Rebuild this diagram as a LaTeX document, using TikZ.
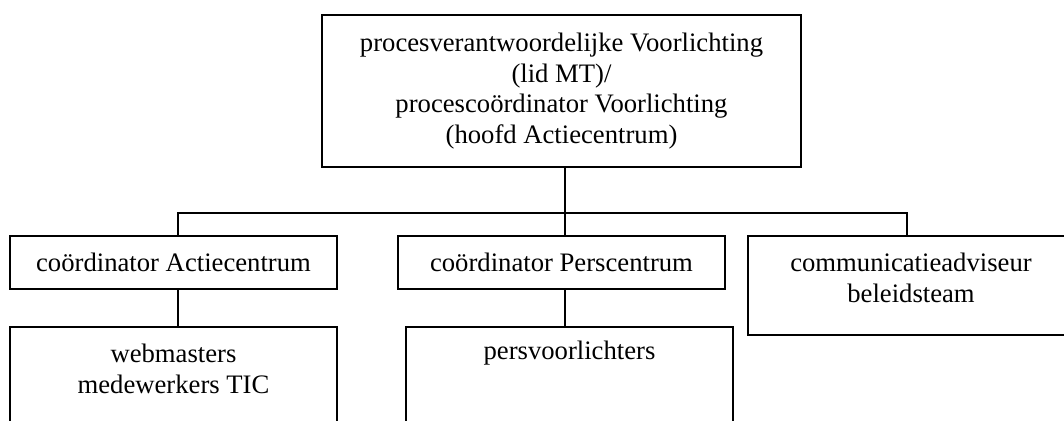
\documentclass[tikz,border=0pt]{standalone}
\usepackage{fontspec}
\setmainfont{Liberation Serif}
\begin{document}
\begin{tikzpicture}[x=0.75pt,y=-0.75pt,
  lw/.style={line width=1.1pt},
  box/.style={draw, lw, inner sep=0pt, align=center, font=\fontsize{20}{23}\selectfont},
  txt/.style={inner sep=0pt, align=center, font=\fontsize{20}{23}\selectfont},
  link/.style={draw, lw, line join=miter}]
\clip (0,0) rectangle (1064,421);
\fill[white] (0,0) rectangle (1064,421);
% boxes
\node[box, minimum width=359.25pt, minimum height=114pt] (top) at (561.5,91)
  {procesverantwoordelijke Voorlichting\\(lid MT)/\\procescoördinator Voorlichting\\(hoofd Actiecentrum)};
\node[box, minimum width=245.25pt, minimum height=39.75pt] (ca) at (173.5,262.5) {coördinator Actiecentrum};
\node[box, minimum width=245.25pt, minimum height=39.75pt] (cp) at (561.5,262.5) {coördinator Perscentrum};
\node[box, minimum width=244.5pt, minimum height=74.25pt] (adv) at (911,285.5) {};
\node[txt] (advt) at (911,278) {communicatieadviseur\\beleidsteam};
\node[box, minimum width=245.25pt, minimum height=90pt] (web) at (173.5,387) {};
\node[txt] (webt) at (173.5,369) {webmasters\\medewerkers TIC};
\node[box, minimum width=245.25pt, minimum height=90pt] (pv) at (569.5,387) {};
\node[txt] (pvt) at (569.5,353) {persvoorlichters};
% connectors
\coordinate (bus) at (565,213);
\coordinate (busL) at (178,213);
\coordinate (busR) at (907,213);
\draw[link] (top.south -| bus) -- (bus |- cp.north);
\draw[link] (busL |- ca.north) -- (busL) -- (busR) -- (busR |- adv.north);
\draw[link] (ca.south -| busL) -- (busL |- web.north);
\draw[link] (cp.south -| bus) -- (bus |- pv.north);
\end{tikzpicture}
\end{document}
